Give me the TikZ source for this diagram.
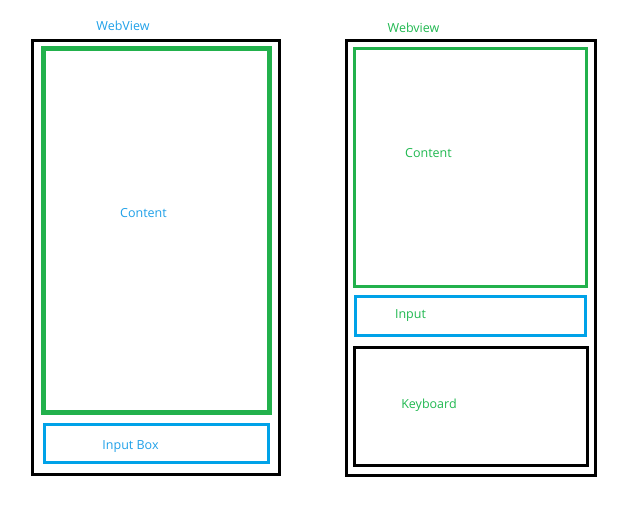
\documentclass[tikz,border=0pt]{standalone}
\usepackage{fontspec}
\setmainfont{Open Sans}
\definecolor{pblue}{HTML}{00A2E8}
\definecolor{pgreen}{HTML}{22B14C}
\definecolor{tblue}{HTML}{1FA0E8}
\definecolor{tgreen}{HTML}{20B850}
\begin{document}
\begin{tikzpicture}[x=1pt,y=-1pt,
  frame/.style={draw=black,line width=3pt},
  gbox/.style={draw=pgreen,line width=3pt},
  bbox/.style={draw=pblue,line width=3pt},
  lbl/.style={font=\fontsize{12.5}{15}\selectfont,inner sep=0pt,anchor=center,text height=9pt,text depth=0pt}]
\useasboundingbox (0,0) rectangle (625,507);
% left phone
\draw[frame] (32.5,40) rectangle (279,474);
\draw[gbox,line width=5pt] (43.5,48.5) rectangle (269,412);
\draw[bbox] (44,424) rectangle (268.3,462);
\node[lbl,text=tblue] (lweb) at (123,26) {WebView};
\node[lbl,text=tblue] (lcontent) at (143.5,213) {Content};
\node[lbl,text=tblue] (linput) at (130.5,445) {Input Box};
% right phone
\draw[frame] (346.3,40) rectangle (595,475.7);
\draw[gbox] (354.2,48.7) rectangle (586.5,286);
\draw[bbox] (355.3,296.3) rectangle (585.3,335.3);
\draw[frame] (354.7,347) rectangle (587.3,465.7);
\node[lbl,text=tgreen] (rweb) at (413.5,28) {Webview};
\node[lbl,text=tgreen] (rcontent) at (428.5,153) {Content};
\node[lbl,text=tgreen] (rinput) at (410.5,313.5) {Input};
\node[lbl,text=tgreen] (rkey) at (429,403.5) {Keyboard};
\end{tikzpicture}
\end{document}
